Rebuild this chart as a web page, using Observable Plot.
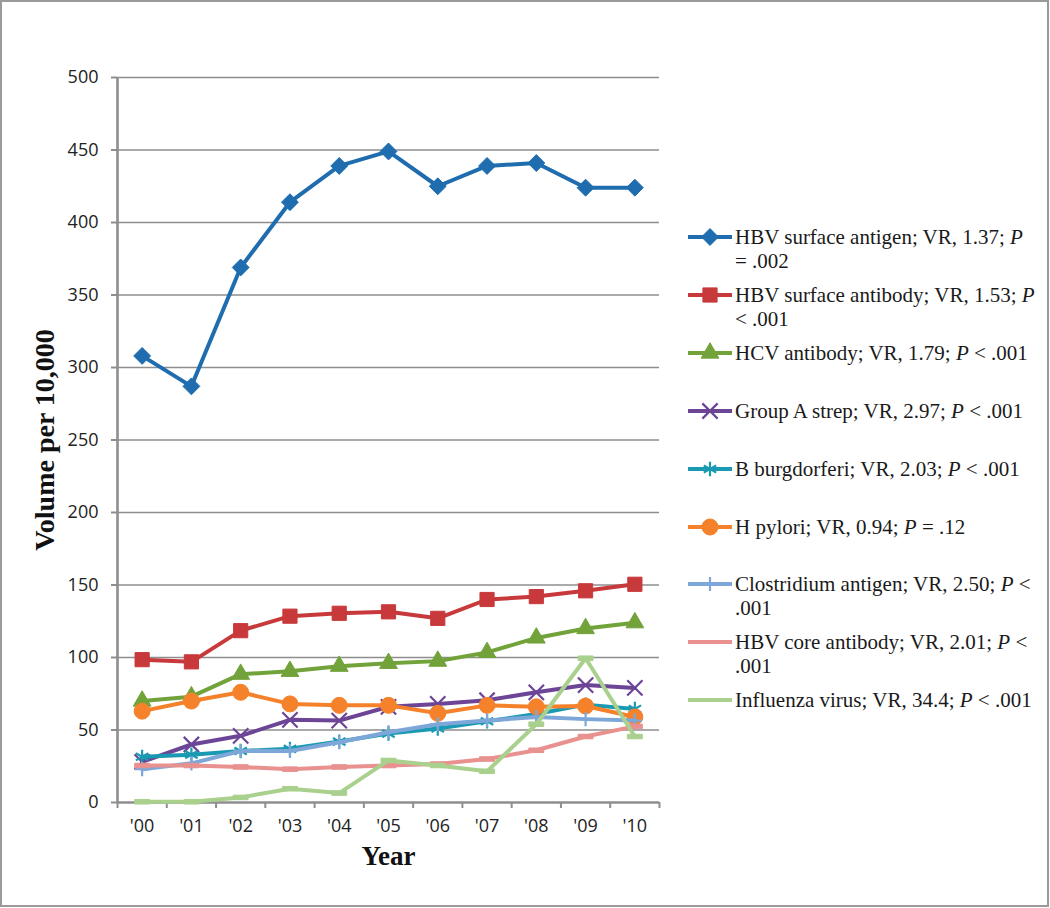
<!DOCTYPE html>
<html>
<head>
<meta charset="utf-8">
<script src="https://cdn.jsdelivr.net/npm/d3@7"></script>
<script src="https://cdn.jsdelivr.net/npm/@observablehq/plot@0.6"></script>
<style>
  html, body { margin: 0; padding: 0; background: #fff; }
  body { position: relative; width: 1050px; height: 908px; overflow: hidden; }
  #frame { position: absolute; left: 0; top: 0; width: 1049px; height: 907px; box-sizing: border-box; border: 2px solid #9a9a9a; pointer-events: none; }
  #chart { position: absolute; left: 0; top: 0; }
  #legend { position: absolute; left: 0; top: 0; }
  .entry { position: absolute; left: 686px; height: 24px; }
  .entry svg { position: absolute; left: 0; top: 0; }
  .entry .txt { position: absolute; left: 49px; top: 0; white-space: nowrap; font-family: "Liberation Serif", "Times New Roman", serif; font-size: 21px; line-height: 24px; color: #1a1a1a; }
</style>
</head>
<body>
<div id="chart"></div>
<div id="legend"></div>
<div id="frame"></div>
<script>
// ---- data ----
const years = ["'00", "'01", "'02", "'03", "'04", "'05", "'06", "'07", "'08", "'09", "'10"];
const yTicks = [0, 50, 100, 150, 200, 250, 300, 350, 400, 450, 500];

const hbvSurfaceAntigen  = [308, 287, 369, 414, 439, 449, 425, 439, 441, 424, 424];
const hbvSurfaceAntibody = [98.5, 97, 118.5, 128.5, 130.5, 131.5, 127, 140, 142, 146, 150.5];
const hcvAntibody        = [70, 73, 88.5, 90.5, 94, 96, 97.5, 103.5, 113.5, 120, 124];
const groupAStrep        = [28, 40, 46, 57, 56.5, 66, 68, 70.5, 76, 81, 79];
const bBurgdorferi       = [31.5, 33, 35.5, 37, 42, 47.5, 51, 56, 61, 67.5, 64.5];
const hPylori            = [63, 70, 76, 68, 67, 67, 61.5, 67, 66, 66.5, 59];
const clostridiumAntigen = [23, 27, 35.5, 35.5, 41.5, 48.5, 54, 56.5, 59, 57.5, 56.5];
const hbvCoreAntibody    = [25.5, 25.5, 24.5, 23, 24.5, 25.5, 26.5, 30, 36, 45.5, 52.5];
const influenzaVirus     = [0.5, 0.5, 3.5, 9.5, 6.5, 29, 25.5, 21.5, 54, 99.5, 45.5];

const seriesNames = [
  "HBV surface antigen", "HBV surface antibody", "HCV antibody", "Group A strep",
  "B burgdorferi", "H pylori", "Clostridium antigen", "HBV core antibody", "Influenza virus"
];
const seriesValues = [
  hbvSurfaceAntigen, hbvSurfaceAntibody, hcvAntibody, groupAStrep,
  bBurgdorferi, hPylori, clostridiumAntigen, hbvCoreAntibody, influenzaVirus
];
// legend text lines (P in italics)
const legendLines = [
  ["HBV surface antigen; VR, 1.37; <i>P</i>", "= .002"],
  ["HBV surface antibody; VR, 1.53; <i>P</i>", "&lt; .001"],
  ["HCV antibody; VR, 1.79; <i>P</i> &lt; .001"],
  ["Group A strep; VR, 2.97; <i>P</i> &lt; .001"],
  ["B burgdorferi; VR, 2.03; <i>P</i> &lt; .001"],
  ["H pylori; VR, 0.94; <i>P</i> = .12"],
  ["Clostridium antigen; VR, 2.50; <i>P</i> &lt;", ".001"],
  ["HBV core antibody; VR, 2.01; <i>P</i> &lt;", ".001"],
  ["Influenza virus; VR, 34.4; <i>P</i> &lt; .001"]
];

// ---- styles ----
const colors = ["#1f6dae", "#c8393b", "#72a33a", "#6d4597", "#1a9ab2", "#f5822b", "#7ea7d9", "#e8918f", "#a9d08d"];
const dash = {
  draw(context, size) {
    const w = Math.sqrt(size) * 0.56, h = Math.sqrt(size) * 0.17;
    context.moveTo(-w, -h); context.lineTo(w, -h); context.lineTo(w, h); context.lineTo(-w, h); context.closePath();
  }
};
const markers = [
  {symbol: "diamond2", r: 7.6, filled: true},
  {symbol: "square", r: 8, filled: true},
  {symbol: "triangle", r: 6.6, filled: true},
  {symbol: "times", r: 7, filled: false},
  {symbol: "asterisk", r: 6.8, filled: false},
  {symbol: "circle", r: 8, filled: true},
  {symbol: "plus", r: 4.6, filled: false},
  {symbol: dash, r: 7.5, filled: true},
  {symbol: dash, r: 7.5, filled: true}
];

const grid = "#8e8e8e";
const tickFont = "'Open Sans', 'DejaVu Sans', sans-serif";
const titleFont = "'Liberation Serif', 'Times New Roman', serif";

// tidy table
const rows = [];
seriesNames.forEach((name, s) => {
  seriesValues[s].forEach((v, i) => rows.push({series: name, s, i, year: years[i], value: v}));
});

const marks = [
  Plot.ruleY(yTicks.filter(d => d > 0), {stroke: grid, strokeWidth: 1.6}),
  Plot.axisY({ticks: yTicks, tickSize: 6, tickPadding: 13, stroke: grid, strokeWidth: 2, fill: "#222",
              fontSize: 18, fontFamily: tickFont, label: null}),
  Plot.axisX({ticks: d3.range(12).map(k => k - 0.5), tickSize: 6, tickFormat: () => "", stroke: grid, strokeWidth: 2, label: null}),
  Plot.axisX({ticks: d3.range(11), tickSize: 0, tickPadding: 17, tickFormat: i => years[i], fill: "#222",
              fontSize: 18, fontFamily: tickFont, label: null}),
  Plot.ruleX([-0.5], {stroke: grid, strokeWidth: 2.6}),
  Plot.ruleY([0], {stroke: grid, strokeWidth: 2.6}),
  Plot.text(["Volume per 10,000"], {frameAnchor: "left", textAnchor: "middle", dx: -72, rotate: -90, fontSize: 28, fontWeight: "bold",
              fontFamily: titleFont, fill: "#111"}),
  Plot.text(["Year"], {frameAnchor: "bottom", dy: 62, fontSize: 27, fontWeight: "bold", fontFamily: titleFont, fill: "#111"})
];

seriesNames.forEach((name, s) => {
  const data = rows.filter(d => d.s === s);
  const m = markers[s];
  marks.push(Plot.lineY(data, {x: "i", y: "value", stroke: colors[s], strokeWidth: 4, strokeLinejoin: "round"}));
  marks.push(Plot.dot(data, {
    x: "i", y: "value", symbol: m.symbol, r: m.r,
    fill: m.filled ? colors[s] : "none", stroke: colors[s], strokeWidth: m.filled ? 1 : 2.2
  }));
});

const chart = Plot.plot({
  width: 680,
  height: 908,
  marginLeft: 117,
  marginRight: 21,
  marginTop: 77,
  marginBottom: 106,
  x: {type: "linear", domain: [-0.5, 10.5], axis: null},
  y: {type: "linear", domain: [0, 500], axis: null},
  style: {background: "transparent", overflow: "visible"},
  marks
});
document.getElementById("chart").appendChild(chart);

// ---- legend ----
const legend = document.getElementById("legend");
seriesNames.forEach((name, s) => {
  const cy = 237 + s * 57.9;
  const entry = document.createElement("div");
  entry.className = "entry";
  entry.style.top = (cy - 12) + "px";
  const m = markers[s];
  const size = Math.PI * m.r * m.r;
  const symType = typeof m.symbol === "string"
    ? {diamond2: d3.symbolDiamond2, square: d3.symbolSquare, triangle: d3.symbolTriangle, times: d3.symbolTimes,
       asterisk: d3.symbolAsterisk, circle: d3.symbolCircle, plus: d3.symbolPlus}[m.symbol]
    : m.symbol;
  const path = d3.symbol(symType, size)();
  entry.innerHTML =
    `<svg width="48" height="24"><line x1="2" x2="46" y1="12" y2="12" stroke="${colors[s]}" stroke-width="4"/>` +
    (s < 7 ? `<path transform="translate(24,12)" d="${path}" fill="${m.filled ? colors[s] : "none"}" stroke="${colors[s]}" stroke-width="${m.filled ? 1 : 2.2}"/>` : "") +
    `</svg><div class="txt">${legendLines[s].join("<br>")}</div>`;
  legend.appendChild(entry);
});
</script>
</body>
</html>
